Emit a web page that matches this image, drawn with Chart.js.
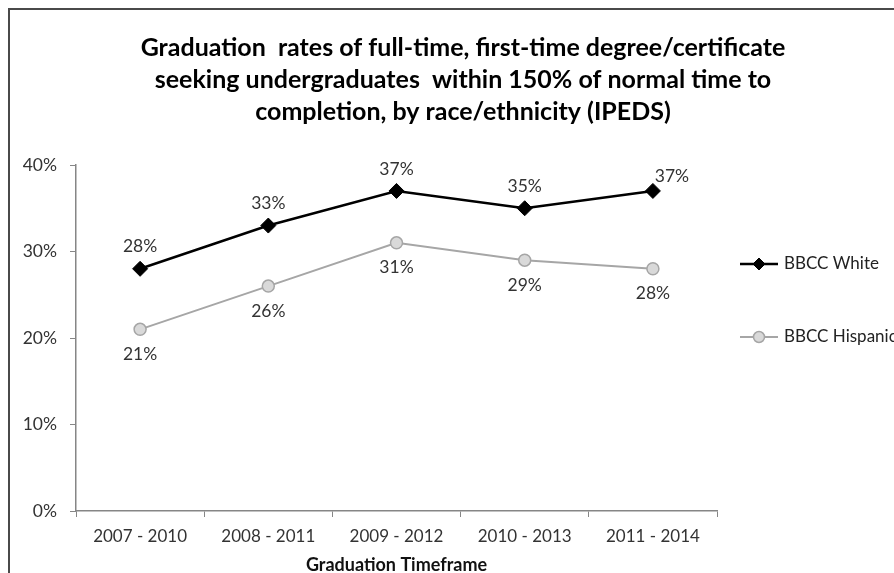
<!DOCTYPE html>
<html>
<head>
<meta charset="utf-8">
<script src="https://cdn.jsdelivr.net/npm/chart.js@4/dist/chart.umd.min.js"></script>
<style>
  body { margin: 0; background: #fff; }
  #wrap { position: relative; width: 894px; height: 573px; overflow: hidden; background: #fff; }
  #frame { position: absolute; left: 8px; top: 8px; width: 1000px; height: 1000px;
           border-left: 2px solid #4a4a4a; border-top: 2px solid #4a4a4a; }
  #chart { position: absolute; left: 0; top: 0; }
</style>
</head>
<body>
<div id="wrap">
  <div id="frame"></div>
  <canvas id="chart" width="926" height="573"></canvas>
</div>
<script>
const categories = ['2007 - 2010', '2008 - 2011', '2009 - 2012', '2010 - 2013', '2011 - 2014'];
const whiteRates = [28, 33, 37, 35, 37];
const hispanicRates = [21, 26, 31, 29, 28];
const seriesNames = ['BBCC White', 'BBCC Hispanic'];

const FONT = 'Lato, "Open Sans", sans-serif';

// value labels next to each point
const pointLabels = {
    id: 'pointLabels',
    afterDatasetsDraw(chart) {
        const ctx = chart.ctx;
        ctx.save();
        ctx.font = '17.5px ' + FONT;
        ctx.fillStyle = '#333';
        ctx.textAlign = 'center';
        ctx.textBaseline = 'middle';
        chart.data.datasets.forEach((ds, di) => {
            const meta = chart.getDatasetMeta(di);
            meta.data.forEach((pt, i) => {
                let dx = 0, dy = di === 0 ? -22 : 25;
                if (di === 0 && i === ds.data.length - 1) { dx = 19; dy = -15; }
                ctx.fillText(ds.data[i] + '%', pt.x + dx, pt.y + dy);
            });
        });
        ctx.restore();
    }
};

// legend on the right: short line with the marker in the middle
const sideLegend = {
    id: 'sideLegend',
    afterDraw(chart) {
        const ctx = chart.ctx;
        const x0 = chart.chartArea.right + 23;
        const rows = [264, 337];
        ctx.save();
        chart.data.datasets.forEach((ds, di) => {
            const y = rows[di];
            ctx.strokeStyle = ds.borderColor;
            ctx.lineWidth = ds.borderWidth;
            ctx.beginPath();
            ctx.moveTo(x0, y);
            ctx.lineTo(x0 + 38, y);
            ctx.stroke();
            const cx = x0 + 19;
            ctx.fillStyle = ds.pointBackgroundColor;
            ctx.strokeStyle = ds.pointBorderColor;
            ctx.lineWidth = ds.pointBorderWidth;
            ctx.beginPath();
            if (ds.pointStyle === 'rectRot') {
                ctx.moveTo(cx, y - 6); ctx.lineTo(cx + 6, y); ctx.lineTo(cx, y + 6); ctx.lineTo(cx - 6, y);
                ctx.closePath();
            } else {
                ctx.arc(cx, y, 5.5, 0, Math.PI * 2);
            }
            ctx.fill();
            ctx.stroke();
            ctx.fillStyle = '#222';
            ctx.font = '17px ' + FONT;
            ctx.textAlign = 'left';
            ctx.textBaseline = 'middle';
            ctx.fillText(ds.label, x0 + 44, y);
        });
        ctx.restore();
    }
};

new Chart(document.getElementById('chart'), {
    type: 'line',
    data: {
        labels: categories,
        datasets: [{
            label: seriesNames[0],
            data: whiteRates,
            borderColor: '#000',
            borderWidth: 2.5,
            pointStyle: 'rectRot',
            pointRadius: 7.5,
            pointBackgroundColor: '#000',
            pointBorderColor: '#000',
            pointBorderWidth: 1
        }, {
            label: seriesNames[1],
            data: hispanicRates,
            borderColor: '#a6a6a6',
            borderWidth: 2,
            pointStyle: 'circle',
            pointRadius: 6,
            pointBackgroundColor: '#d9d9d9',
            pointBorderColor: '#a6a6a6',
            pointBorderWidth: 1.5
        }]
    },
    options: {
        responsive: false,
        animation: false,
        layout: { padding: 0 },
        plugins: {
            legend: { display: false },
            tooltip: { enabled: false },
            title: {
                display: true,
                text: ['Graduation  rates of full-time, first-time degree/certificate',
                       'seeking undergraduates  within 150% of normal time to',
                       'completion, by race/ethnicity (IPEDS)'],
                color: '#000',
                font: { family: FONT, size: 25, weight: 'bold', lineHeight: 1.28 },
                padding: { top: 32, bottom: 37 }
            }
        },
        scales: {
            x: {
                offset: true,
                grid: { display: true, drawOnChartArea: false, tickLength: 6, color: '#868686', offset: true },
                border: { color: '#868686', width: 1.5 },
                ticks: { color: '#333', font: { family: FONT, size: 17 }, padding: 9, maxRotation: 0, autoSkip: false },
                title: {
                    display: true,
                    text: 'Graduation Timeframe',
                    color: '#111',
                    font: { family: FONT, size: 18, weight: 'bold' },
                    padding: { top: 0, bottom: -3 }
                },
                afterFit(scale) { scale.height = 62; }
            },
            y: {
                min: 0,
                max: 40,
                grid: { display: true, drawOnChartArea: false, tickLength: 6, color: '#868686' },
                border: { color: '#868686', width: 1.5 },
                ticks: {
                    stepSize: 10,
                    color: '#333',
                    font: { family: FONT, size: 17.5 },
                    padding: 13,
                    callback: v => v + '%'
                },
                afterFit(scale) { scale.width = 76; }
            },
            // empty right-hand scale that only reserves room for the legend
            legendRoom: {
                type: 'linear',
                position: 'right',
                grid: { display: false },
                border: { display: false },
                ticks: { display: false },
                afterFit(scale) { scale.width = 209; }
            }
        }
    },
    plugins: [pointLabels, sideLegend]
});
</script>
</body>
</html>
